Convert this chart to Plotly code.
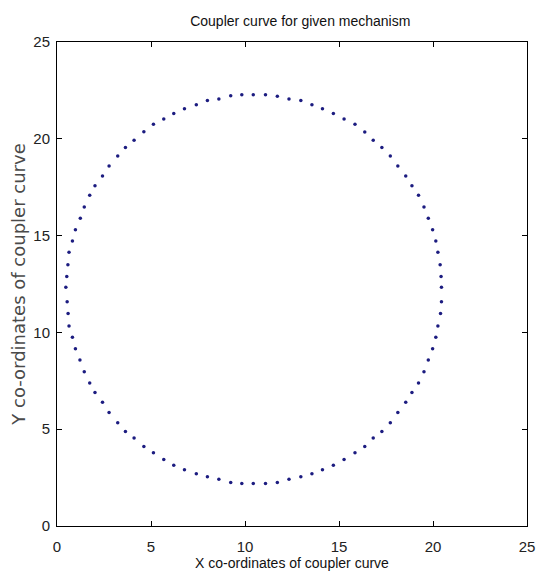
import plotly.graph_objects as go

# Coupler curve points (ordered around the curve)
x_left_top = [10.44, 9.83, 9.24, 8.61, 8.00, 7.41, 6.78, 6.21, 5.68, 5.13, 4.62, 4.10, 3.64,
              3.23, 2.77, 2.42, 2.02, 1.74, 1.45, 1.24, 0.98, 0.82, 0.64, 0.58, 0.52, 0.47]
y_left_top = [22.28, 22.28, 22.22, 22.06, 21.98, 21.76, 21.55, 21.31, 21.02, 20.75, 20.37, 19.93, 19.55,
              19.11, 18.60, 18.08, 17.57, 17.08, 16.48, 15.90, 15.30, 14.72, 14.14, 13.49, 12.89, 12.33]

x_left_bottom = [0.54, 0.59, 0.64, 0.82, 0.98, 1.22, 1.45, 1.74, 2.02, 2.42, 2.77, 3.23, 3.64,
                 4.10, 4.62, 5.13, 5.68, 6.21, 6.78, 7.41, 8.00, 8.61, 9.24, 9.83, 10.44]
y_left_bottom = [11.58, 10.98, 10.33, 9.75, 9.15, 8.57, 7.97, 7.39, 6.90, 6.39, 5.86, 5.33, 4.88,
                 4.54, 4.10, 3.79, 3.43, 3.14, 2.90, 2.70, 2.54, 2.41, 2.25, 2.19, 2.19]

x_right_bottom = [11.09, 11.72, 12.34, 12.97, 13.56, 14.12, 14.70, 15.27, 15.85, 16.37, 16.82, 17.28,
                  17.73, 18.13, 18.55, 18.88, 19.23, 19.52, 19.75, 19.98, 20.15, 20.26, 20.40, 20.45]
y_right_bottom = [2.19, 2.25, 2.41, 2.54, 2.70, 2.90, 3.14, 3.43, 3.79, 4.10, 4.54, 4.88,
                  5.33, 5.86, 6.39, 6.90, 7.39, 7.97, 8.57, 9.15, 9.75, 10.33, 10.98, 11.58]

x_right_top = [20.45, 20.43, 20.38, 20.26, 20.15, 19.98, 19.75, 19.52, 19.23, 18.88, 18.55, 18.13, 17.73,
               17.28, 16.82, 16.37, 15.85, 15.27, 14.70, 14.12, 13.56, 12.97, 12.34, 11.72, 11.09]
y_right_top = [12.33, 12.89, 13.49, 14.14, 14.72, 15.30, 15.90, 16.48, 17.08, 17.57, 18.08, 18.60, 19.11,
               19.55, 19.93, 20.35, 20.75, 21.02, 21.31, 21.55, 21.76, 21.98, 22.06, 22.20, 22.28]

x_vals = x_left_top + x_left_bottom + x_right_bottom + x_right_top
y_vals = y_left_top + y_left_bottom + y_right_bottom + y_right_top

tick_vals = [0, 5, 10, 15, 20, 25]
tick_text = ["0", "5", "10", "15", "20", "25"]

title_text = "Coupler curve for given mechanism"
x_title = "X co-ordinates of coupler curve"
y_title = "Y co-ordinates of coupler curve"

fig = go.Figure()
fig.add_trace(go.Scatter(
    x=x_vals, y=y_vals, mode="markers",
    marker=dict(symbol="circle", size=3.5, color="#1c1c80"),
    showlegend=False, hoverinfo="skip",
))

font_family = "Liberation Sans, Arial, sans-serif"
axis_common = dict(
    range=[0, 25], tickvals=tick_vals, ticktext=tick_text,
    showgrid=False, zeroline=False, showline=True, linecolor="black", linewidth=1,
    mirror="ticks", ticks="inside", ticklen=5, tickcolor="black", tickwidth=1,
    tickfont=dict(family=font_family, size=15, color="#222222"),
)

fig.update_layout(
    width=547, height=580,
    margin=dict(l=57, r=12, t=42, b=50),
    paper_bgcolor="white", plot_bgcolor="white",
    title=dict(text=title_text, x=0.549, xanchor="center", y=0.963, yanchor="middle",
               font=dict(family=font_family, size=14, color="#111111")),
    xaxis=dict(**axis_common, ticklabelstandoff=7,
               title=dict(text=x_title, standoff=3,
                          font=dict(family=font_family, size=14, color="#111111"))),
    yaxis=dict(**axis_common, ticklabelstandoff=3,
               title=dict(text=y_title, standoff=3,
                          font=dict(family="DejaVu Sans, sans-serif", size=18, color="#4a4a4a"))),
)

fig.write_html("out.html", config={"displayModeBar": False},
               post_script="document.body.style.margin='0';document.body.style.overflow='hidden';")
